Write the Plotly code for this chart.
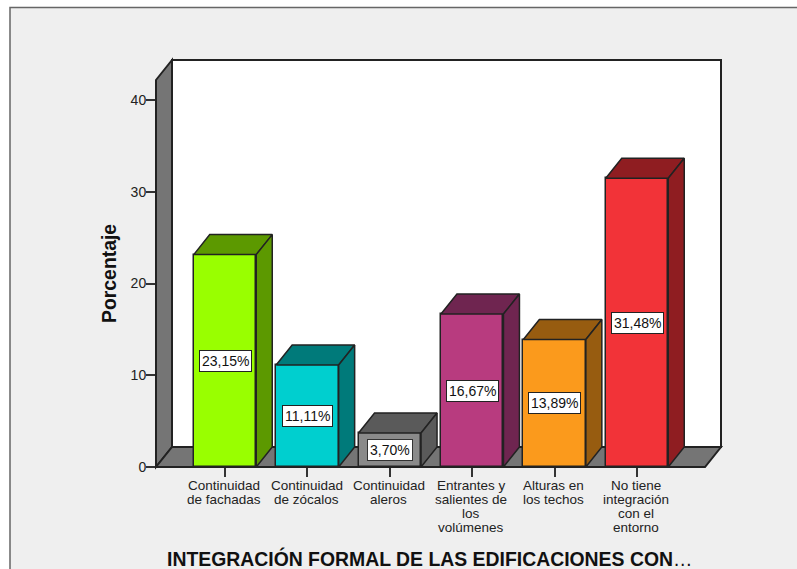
import plotly.graph_objects as go

categories = ["Continuidad\nde fachadas", "Continuidad\nde zócalos", "Continuidad\naleros",
              "Entrantes y\nsalientes de\nlos\nvolúmenes", "Alturas en\nlos techos",
              "No tiene\nintegración\ncon el\nentorno"]
values = [23.15, 11.11, 3.70, 16.67, 13.89, 31.48]
value_labels = ["23,15%", "11,11%", "3,70%", "16,67%", "13,89%", "31,48%"]
y_ticks = [0, 10, 20, 30, 40]
front_colors = ["#99ff00", "#00cfcf", "#8a8a8a", "#b83b7f", "#fb9a1c", "#f23338"]
side_colors = ["#5c9900", "#007a7a", "#5a5a5a", "#6f2550", "#975c10", "#8f1d21"]

W, H = 797, 569
L, R, T, B = 156, 721, 60, 467      # plot-area pixels
X0, XSTEP = 225, 82.4               # first category centre, pixel step
YSTEP = 9.175                       # pixels per percent
DX, DY = 16, 20                     # 3-D depth in pixels
BAR_W = 62.5
DARK = "#222222"
GREY_BG = "#efefef"
WALL = "#757575"
FONT = "Liberation Sans"

px = lambda p: (p - L) / (R - L)
py = lambda p: (B - p) / (B - T)
ddx, ddy = DX / XSTEP, DY / YSTEP
half = BAR_W / XSTEP / 2

fig = go.Figure()

fig.add_trace(go.Bar(x=list(range(len(values))), y=values, width=BAR_W / XSTEP,
                     marker=dict(color=front_colors, line=dict(color=DARK, width=1.5)),
                     hoverinfo="skip", showlegend=False))

for i, v in enumerate(values):
    l, r = i - half, i + half
    fig.add_trace(go.Scatter(x=[l, r, r + ddx, l + ddx, l], y=[v, v, v + ddy, v + ddy, v],
                             mode="lines", fill="toself", fillcolor=side_colors[i],
                             line=dict(color=DARK, width=1.5), cliponaxis=False,
                             hoverinfo="skip", showlegend=False))
    fig.add_trace(go.Scatter(x=[r, r + ddx, r + ddx, r, r], y=[0, ddy, v + ddy, v, 0],
                             mode="lines", fill="toself", fillcolor=side_colors[i],
                             line=dict(color=DARK, width=1.5), cliponaxis=False,
                             hoverinfo="skip", showlegend=False))


def poly(points):
    return "M" + " L".join(f"{px(a):.5f},{py(b):.5f}" for a, b in points) + " Z"


shapes = [
    dict(type="rect", xref="paper", yref="paper", x0=px(10), x1=px(W + 10), y0=py(H + 10), y1=py(7.5),
         fillcolor=GREY_BG, line=dict(color="#666666", width=1.5), layer="below"),
    dict(type="rect", xref="paper", yref="paper", x0=px(R - 549), x1=px(R), y0=py(B - DY), y1=py(T),
         fillcolor="white", line=dict(color=DARK, width=2), layer="below"),
    dict(type="path", xref="paper", yref="paper",
         path=poly([(L, B), (L + DX, B - DY), (L + DX, T), (L, T + DY)]),
         fillcolor=WALL, line=dict(color=DARK, width=2), layer="below"),
    dict(type="path", xref="paper", yref="paper",
         path=poly([(L, B), (L + 549, B), (R, B - DY), (L + DX, B - DY)]),
         fillcolor=WALL, line=dict(color=DARK, width=2), layer="below"),
    dict(type="line", xref="paper", yref="paper", x0=px(L), x1=px(L + 549), y0=py(B), y1=py(B),
         line=dict(color=DARK, width=2), layer="above"),
]

annotations = []
for i, (v, t) in enumerate(zip(values, value_labels)):
    annotations.append(dict(x=i, y=v / 2, xref="x", yref="y", text=t, showarrow=False,
                            font=dict(family=FONT, size=14, color="#111111"), bgcolor="white",
                            bordercolor=DARK if i != 2 else "#333333", borderwidth=1, borderpad=2,
                            xanchor="center", yanchor="middle"))
for i, cat in enumerate(categories):
    for j, line in enumerate(cat.split("\n")):
        annotations.append(dict(x=i - 0.01, y=py(485.5 + j * 14.1), xref="x", yref="paper", text=line,
                                showarrow=False, font=dict(family=FONT, size=13.5, color="#222222"),
                                xanchor="center", yanchor="middle"))
annotations.append(dict(x=px(429.5), y=py(558), xref="paper", yref="paper",
                        text="<b>INTEGRACIÓN FORMAL DE LAS EDIFICACIONES CON</b>…", showarrow=False,
                        font=dict(family=FONT, size=19.4, color="#111111"),
                        xanchor="center", yanchor="middle"))
annotations.append(dict(x=px(108.5), y=py(273.5), xref="paper", yref="paper",
                        text="<b>Porcentaje</b>", textangle=-90, showarrow=False,
                        font=dict(family=FONT, size=19.4, color="#111111"),
                        xanchor="center", yanchor="middle"))

fig.update_layout(
    width=W, height=H, autosize=False,
    margin=dict(l=L, r=W - R, t=T, b=H - B, pad=0),
    paper_bgcolor="white", plot_bgcolor="rgba(0,0,0,0)",
    shapes=shapes, annotations=annotations, showlegend=False, bargap=0,
    xaxis=dict(range=[(L - X0) / XSTEP, (R - X0) / XSTEP], tickvals=list(range(len(values))),
               ticktext=[""] * len(values), ticks="outside", ticklen=9, tickwidth=1.5, tickcolor="#333333",
               showgrid=False, zeroline=False, showline=False, fixedrange=True),
    yaxis=dict(range=[0, (B - T) / YSTEP], tickvals=y_ticks, ticks="outside", ticklen=9, tickwidth=1.5,
               tickcolor="#333333", showgrid=False, zeroline=False, showline=False, fixedrange=True,
               ticklabelstandoff=-3,
               tickfont=dict(family=FONT, size=14, color="#222222")),
)

fig.write_html("out.html", config={"displayModeBar": False},
               post_script="document.body.style.margin='0';document.body.style.overflow='hidden';")
